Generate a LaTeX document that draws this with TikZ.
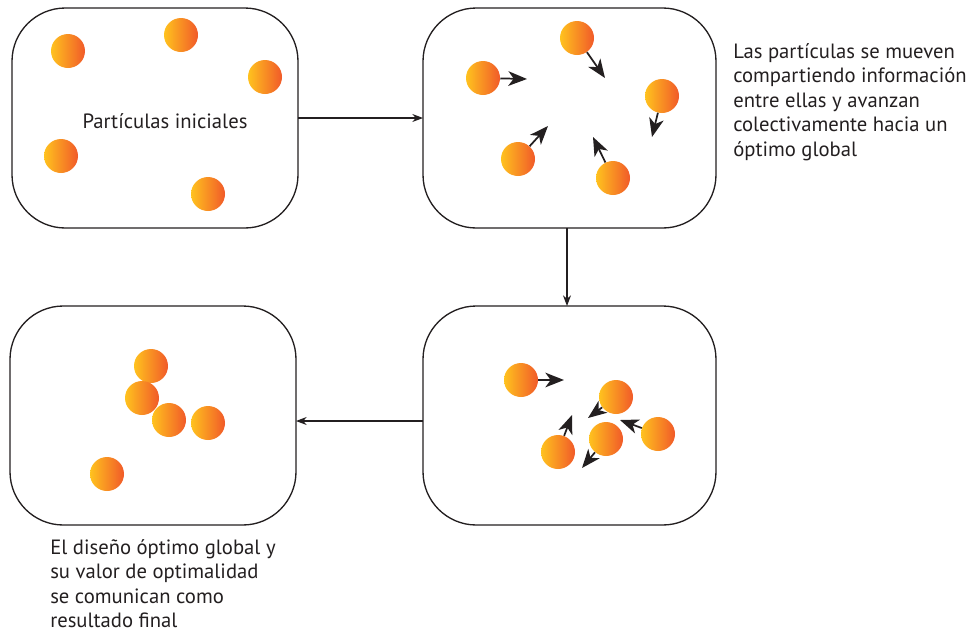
\documentclass[tikz,border=0pt]{standalone}
\usepackage{fontspec}
\setmainfont{PT Sans}
\usetikzlibrary{arrows.meta}
\definecolor{pyel}{HTML}{FFC21E}
\definecolor{pred}{HTML}{F15A29}
\definecolor{txt}{HTML}{231F20}
\tikzset{
  box/.style={draw=txt, line width=1pt, rounded corners=40},
  part/.style={circle, minimum size=25.5pt, inner sep=0pt, left color=pyel, right color=pred, shading angle=90},
  flow/.style={draw=txt, line width=0.8pt, -{Stealth[length=8pt,width=6pt]}},
  move/.style={draw=txt, line width=1.3pt, -{Stealth[length=14pt,width=11pt,inset=4pt]}},
  lbl/.style={text=txt, font=\fontsize{15.5pt}{18.4pt}\selectfont, align=left, anchor=north west, inner sep=0pt},
}
\begin{document}
\begin{tikzpicture}[x=0.75pt, y=-0.75pt]
\useasboundingbox (0,0) rectangle (978,643);
% boxes
\draw[box] (12,8) rectangle (298,228);
\coordinate (b1e) at (298,118);
\draw[box] (423,8) rectangle (716,228);
\coordinate (b2w) at (423,118);
\coordinate (b2s) at (567,228);
\draw[box] (423,306) rectangle (716,525);
\coordinate (b3n) at (567,306);
\coordinate (b3w) at (423,421);
\draw[box] (10,306) rectangle (296,525);
\coordinate (b4e) at (296,421);
% connectors
\draw[flow] (b1e) -- (b2w);
\draw[flow] (b2s) -- (b3n);
\draw[flow] (b3w) -- (b4e);
% box 1
\node[part] (p11) at (68,51) {};
\node[part] (p12) at (181,35) {};
\node[part] (p13) at (265,77) {};
\node[part] (p14) at (61,156) {};
\node[part] (p15) at (208,194) {};
\node[text=txt, font=\fontsize{15.5pt}{18pt}\selectfont, inner sep=0pt] (t1) at (165,121) {Partículas iniciales};
% box 2
\node[part] (p21) at (483,78) {};
\node[part] (p22) at (577,38) {};
\node[part] (p23) at (662,96) {};
\node[part] (p24) at (518,159) {};
\node[part] (p25) at (613,178) {};
\coordinate (a21) at (527,79);
\coordinate (a22) at (605,78);
\coordinate (a23) at (652,137);
\coordinate (a24) at (548,126);
\coordinate (a25) at (593,137);
\draw[move] (p21) -- (a21);
\draw[move] (p22) -- (a22);
\draw[move] (p23) -- (a23);
\draw[move] (p24) -- (a24);
\draw[move] (p25) -- (a25);
% box 3
\node[part] (p31) at (521,380) {};
\node[part] (p32) at (616,397) {};
\node[part] (p33) at (658,434) {};
\node[part] (p34) at (606,439) {};
\node[part] (p35) at (558,452) {};
\coordinate (a31) at (564,380);
\coordinate (a32) at (588,418);
\coordinate (a33) at (620,420);
\coordinate (a34) at (582,468);
\coordinate (a35) at (572,415);
\draw[move] (p31) -- (a31);
\draw[move] (p32) -- (a32);
\draw[move] (p33) -- (a33);
\draw[move] (p34) -- (a34);
\draw[move] (p35) -- (a35);
% box 4
\node[part] (p41) at (151,366) {};
\node[part] (p42) at (142,398) {};
\node[part] (p43) at (169,420) {};
\node[part] (p44) at (208,423) {};
\node[part] (p45) at (107,474) {};
% texts
\node[lbl] (t2) at (733,43) {Las partículas se mueven\\compartiendo información\\entre ellas y avanzan\\colectivamente hacia un\\óptimo global};
\node[lbl] (t3) at (50,539) {El diseño óptimo global y\\su valor de optimalidad\\se comunican como\\resultado final};
\end{tikzpicture}
\end{document}
